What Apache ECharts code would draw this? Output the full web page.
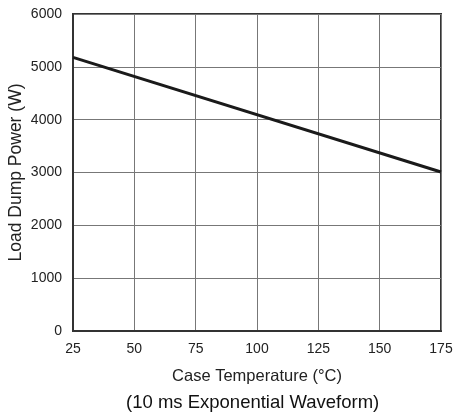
<!DOCTYPE html>
<html>
<head>
<meta charset="utf-8">
<script src="https://cdn.jsdelivr.net/npm/echarts@6/dist/echarts.min.js"></script>
<style>
  html, body { margin: 0; padding: 0; background: #fff; }
  #chart { width: 453px; height: 415px; }
</style>
</head>
<body>
<div id="chart"></div>
<script>
// case temperature (°C) vs load dump power (W)
const temps = [25, 175];
const power = [5180, 3010];
const xTicks = [25, 50, 75, 100, 125, 150, 175];

const chart = echarts.init(document.getElementById('chart'));
const font = 'Liberation Sans, Arial, sans-serif';

const option = {
    animation: false,
    grid: {
        left: 73, top: 14, right: 12, bottom: 84,
        outerBoundsMode: 'none',
        show: true, borderColor: '#333', borderWidth: 2
    },
    xAxis: {
        type: 'value',
        min: xTicks[0],
        max: xTicks[xTicks.length - 1],
        interval: 25,
        name: 'Case Temperature (°C)',
        nameLocation: 'middle',
        nameGap: 37,
        nameMoveOverlap: false,
        nameTextStyle: { fontFamily: font, fontSize: 16.5, color: '#222' },
        axisLine: { lineStyle: { color: '#333', width: 2 } },
        axisTick: { show: false },
        axisLabel: { fontFamily: font, fontSize: 14, color: '#222', margin: 11 },
        splitLine: { lineStyle: { color: '#777', width: 1 } }
    },
    yAxis: {
        type: 'value',
        min: 0,
        max: 6000,
        interval: 1000,
        name: 'Load Dump Power (W)',
        nameLocation: 'middle',
        nameGap: 48,
        nameMoveOverlap: false,
        nameTextStyle: { fontFamily: font, fontSize: 17.5, color: '#222' },
        axisLine: { show: true, lineStyle: { color: '#333', width: 2 } },
        axisTick: { show: false },
        axisLabel: { fontFamily: font, fontSize: 14, color: '#222', margin: 11, formatter: v => String(v) },
        splitLine: { lineStyle: { color: '#777', width: 1 } }
    },
    graphic: [{
        type: 'text',
        left: 126,
        top: 393,
        style: { text: '(10 ms Exponential Waveform)', fontFamily: font, fontSize: 18.5, fill: '#111' }
    }],
    series: [{
        type: 'line',
        data: temps.map((t, i) => [t, power[i]]),
        symbol: 'none',
        lineStyle: { color: '#1a1a1a', width: 3 }
    }]
};

chart.setOption(option);
</script>
</body>
</html>
